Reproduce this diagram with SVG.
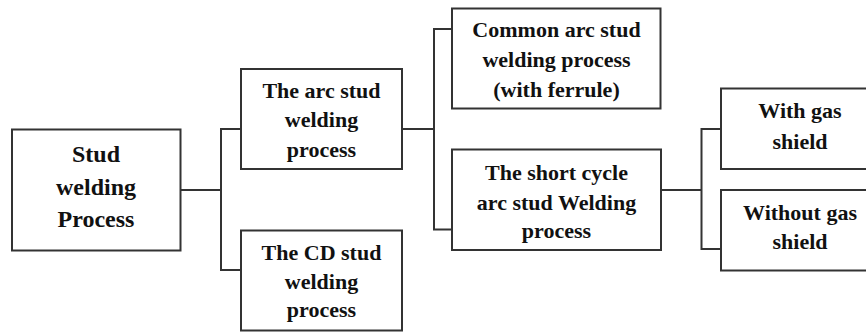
<svg xmlns="http://www.w3.org/2000/svg" width="866" height="333" viewBox="0 0 866 333">
<style>
.box{fill:#fff;stroke:#333;stroke-width:2}
.ln{fill:none;stroke:#333;stroke-width:2}
text{font-family:"Liberation Serif","Times New Roman",serif;font-weight:bold;font-size:22px;fill:#111;text-anchor:middle}
.big{font-size:24px}
</style>
<rect width="866" height="333" fill="#fff"/>
<g id="connectors">
<polyline class="ln" points="180.5,190 221,190"/>
<polyline class="ln" points="241,129 221,129 221,270 241,270"/>
<polyline class="ln" points="402,129 434,129"/>
<polyline class="ln" points="452,29 434,29 434,229.5 452,229.5"/>
<polyline class="ln" points="661,190 701.5,190"/>
<polyline class="ln" points="721,129 701.5,129 701.5,249 721,249"/>
</g>
<g id="stud">
<rect class="box" x="12" y="129.5" width="168.5" height="121"/>
<text class="big" x="96" y="161.5">Stud</text>
<text class="big" x="96" y="195">welding</text>
<text class="big" x="96" y="226.5">Process</text>
</g>
<g id="arc">
<rect class="box" x="241" y="69" width="161" height="100"/>
<text x="321.5" y="97.5">The arc stud</text>
<text x="321.5" y="127">welding</text>
<text x="321.5" y="157">process</text>
</g>
<g id="cd">
<rect class="box" x="241" y="230.5" width="161" height="100"/>
<text x="321.5" y="259.5">The CD stud</text>
<text x="321.5" y="288.5">welding</text>
<text x="321.5" y="317">process</text>
</g>
<g id="common">
<rect class="box" x="452" y="8.5" width="208.5" height="100"/>
<text x="556.5" y="37">Common arc stud</text>
<text x="556.5" y="67">welding process</text>
<text x="556.5" y="97">(with ferrule)</text>
</g>
<g id="short">
<rect class="box" x="452" y="149.5" width="209" height="100.5"/>
<text x="556.5" y="179.5">The short cycle</text>
<text x="556.5" y="210">arc stud Welding</text>
<text x="556.5" y="238">process</text>
</g>
<g id="withgas">
<rect class="box" x="721" y="88.5" width="160" height="80.5"/>
<text x="800" y="118">With gas</text>
<text x="800" y="148.5">shield</text>
</g>
<g id="withoutgas">
<rect class="box" x="721" y="190" width="160" height="80.5"/>
<text x="800" y="219.5">Without gas</text>
<text x="800" y="248.5">shield</text>
</g>
</svg>
